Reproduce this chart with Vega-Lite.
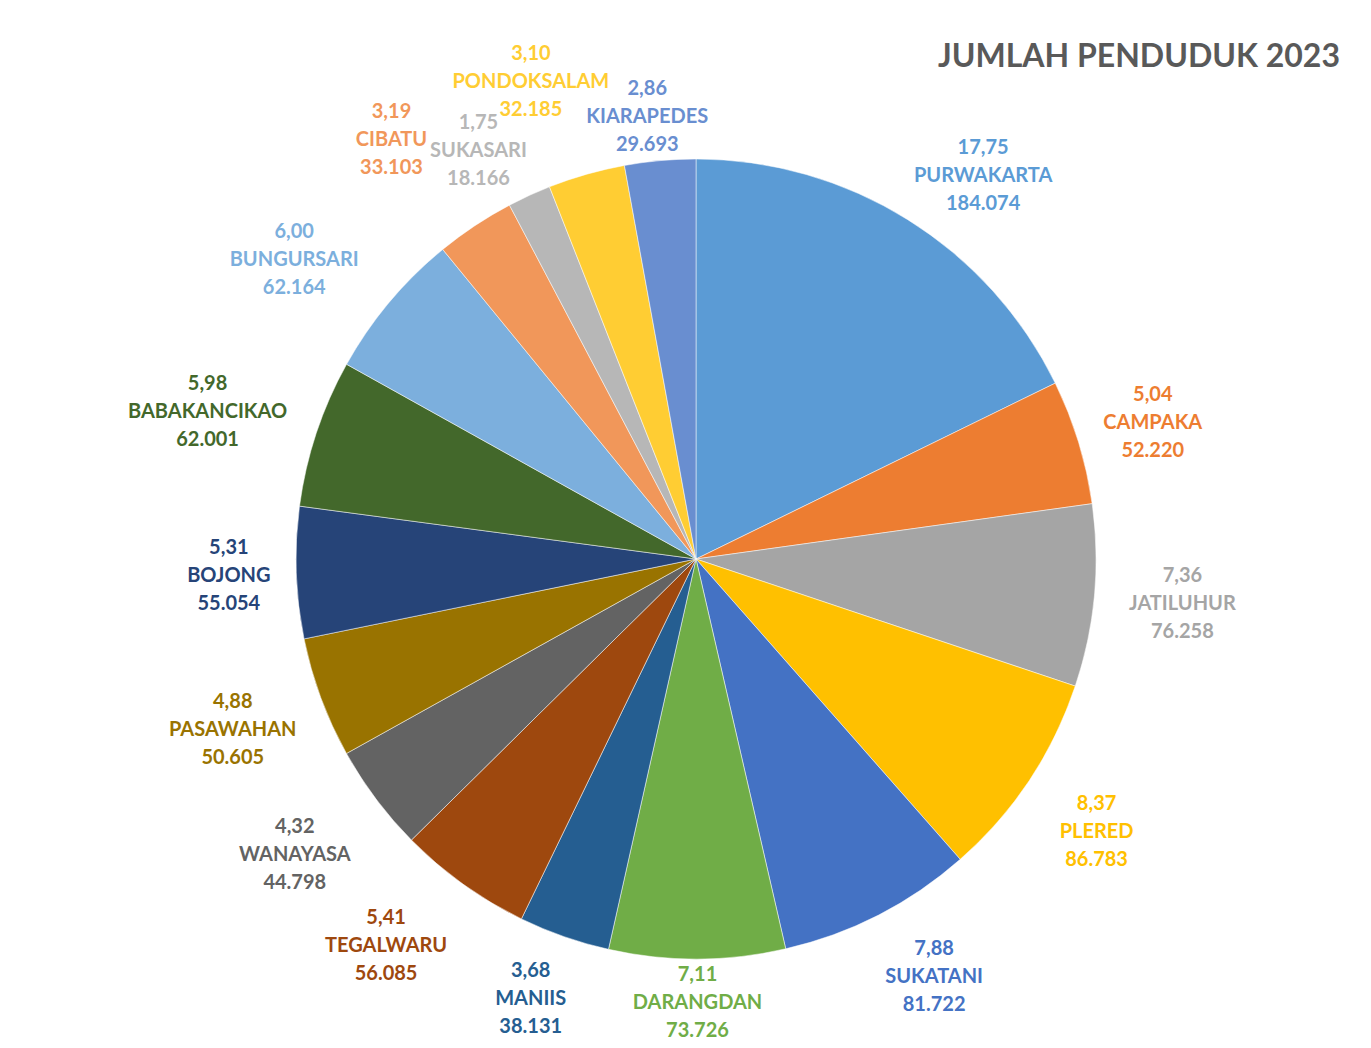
{
  "$schema": "https://vega.github.io/schema/vega-lite/v6.json",
  "autosize": "none",
  "width": 1350,
  "height": 978,
  "padding": {"left": 21, "top": 70, "right": 0, "bottom": 0},
  "background": "white",
  "title": {
    "text": "JUMLAH PENDUDUK 2023",
    "anchor": "end",
    "frame": "group",
    "orient": "top",
    "dx": -31,
    "offset": -30,
    "font": "Lato",
    "fontSize": 32,
    "fontWeight": "bold",
    "color": "#595959"
  },
  "config": {
    "view": {"stroke": null},
    "locale": {
      "number": {"decimal": ",", "thousands": ".", "grouping": [3], "currency": ["Rp", ""]}
    }
  },
  "data": {
    "values": [
      {"urutan": 1, "kecamatan": "PURWAKARTA", "penduduk": 184074, "persen": 17.75},
      {"urutan": 2, "kecamatan": "CAMPAKA", "penduduk": 52220, "persen": 5.04},
      {"urutan": 3, "kecamatan": "JATILUHUR", "penduduk": 76258, "persen": 7.36},
      {"urutan": 4, "kecamatan": "PLERED", "penduduk": 86783, "persen": 8.37},
      {"urutan": 5, "kecamatan": "SUKATANI", "penduduk": 81722, "persen": 7.88},
      {"urutan": 6, "kecamatan": "DARANGDAN", "penduduk": 73726, "persen": 7.11},
      {"urutan": 7, "kecamatan": "MANIIS", "penduduk": 38131, "persen": 3.68},
      {"urutan": 8, "kecamatan": "TEGALWARU", "penduduk": 56085, "persen": 5.41},
      {"urutan": 9, "kecamatan": "WANAYASA", "penduduk": 44798, "persen": 4.32},
      {"urutan": 10, "kecamatan": "PASAWAHAN", "penduduk": 50605, "persen": 4.88},
      {"urutan": 11, "kecamatan": "BOJONG", "penduduk": 55054, "persen": 5.31},
      {"urutan": 12, "kecamatan": "BABAKANCIKAO", "penduduk": 62001, "persen": 5.98},
      {"urutan": 13, "kecamatan": "BUNGURSARI", "penduduk": 62164, "persen": 6.00},
      {"urutan": 14, "kecamatan": "CIBATU", "penduduk": 33103, "persen": 3.19},
      {"urutan": 15, "kecamatan": "SUKASARI", "penduduk": 18166, "persen": 1.75},
      {"urutan": 16, "kecamatan": "PONDOKSALAM", "penduduk": 32185, "persen": 3.10},
      {"urutan": 17, "kecamatan": "KIARAPEDES", "penduduk": 29693, "persen": 2.86}
    ]
  },
  "encoding": {
    "theta": {"field": "penduduk", "type": "quantitative", "stack": true},
    "order": {"field": "urutan", "type": "quantitative"},
    "color": {
      "field": "kecamatan",
      "type": "nominal",
      "legend": null,
      "scale": {
        "domain": ["PURWAKARTA", "CAMPAKA", "JATILUHUR", "PLERED", "SUKATANI", "DARANGDAN", "MANIIS", "TEGALWARU", "WANAYASA", "PASAWAHAN", "BOJONG", "BABAKANCIKAO", "BUNGURSARI", "CIBATU", "SUKASARI", "PONDOKSALAM", "KIARAPEDES"],
        "range": ["#5B9BD5", "#ED7D31", "#A5A5A5", "#FFC000", "#4472C4", "#70AD47", "#255E91", "#9E480E", "#636363", "#997300", "#264478", "#43682B", "#7CAFDD", "#F1975A", "#B7B7B7", "#FFCD33", "#698ED0"]
      }
    }
  },
  "layer": [
    {
      "mark": {"type": "arc", "outerRadius": 400, "stroke": "white", "strokeWidth": 0.5}
    },
    {
      "mark": {
        "type": "text", "radius": 400, "font": "Lato", "fontSize": 20, "fontWeight": "bold", "align": "center", "baseline": "middle",
        "dx": {"expr": "(26 + max(length(datum.kecamatan), 6) * 6.9) * clamp(1.5 * sin(scale('theta', 0.5 * datum.penduduk_start + 0.5 * datum.penduduk_end)), -1, 1) + ((datum.persen < 3.5 && datum.urutan % 2 == 0) ? 50 : 0) * sin(scale('theta', 0.5 * datum.penduduk_start + 0.5 * datum.penduduk_end))"},
        "dy": {"expr": "min((cos(scale('theta', 0.5 * datum.penduduk_start + 0.5 * datum.penduduk_end)) < 0 ? 62 : 44) * clamp(-1.5 * cos(scale('theta', 0.5 * datum.penduduk_start + 0.5 * datum.penduduk_end)), -1, 1), height / 2 - 45 + 400 * cos(scale('theta', 0.5 * datum.penduduk_start + 0.5 * datum.penduduk_end))) - ((datum.persen < 3.5 && datum.urutan % 2 == 0) ? 50 : 0) * cos(scale('theta', 0.5 * datum.penduduk_start + 0.5 * datum.penduduk_end)) - 28"}
      },
      "encoding": {"text": {"field": "persen", "type": "quantitative", "format": ".2f"}}
    },
    {
      "mark": {
        "type": "text", "radius": 400, "font": "Lato", "fontSize": 20, "fontWeight": "bold", "align": "center", "baseline": "middle",
        "dx": {"expr": "(26 + max(length(datum.kecamatan), 6) * 6.9) * clamp(1.5 * sin(scale('theta', 0.5 * datum.penduduk_start + 0.5 * datum.penduduk_end)), -1, 1) + ((datum.persen < 3.5 && datum.urutan % 2 == 0) ? 50 : 0) * sin(scale('theta', 0.5 * datum.penduduk_start + 0.5 * datum.penduduk_end))"},
        "dy": {"expr": "min((cos(scale('theta', 0.5 * datum.penduduk_start + 0.5 * datum.penduduk_end)) < 0 ? 62 : 44) * clamp(-1.5 * cos(scale('theta', 0.5 * datum.penduduk_start + 0.5 * datum.penduduk_end)), -1, 1), height / 2 - 45 + 400 * cos(scale('theta', 0.5 * datum.penduduk_start + 0.5 * datum.penduduk_end))) - ((datum.persen < 3.5 && datum.urutan % 2 == 0) ? 50 : 0) * cos(scale('theta', 0.5 * datum.penduduk_start + 0.5 * datum.penduduk_end))"}
      },
      "encoding": {"text": {"field": "kecamatan", "type": "nominal"}}
    },
    {
      "mark": {
        "type": "text", "radius": 400, "font": "Lato", "fontSize": 20, "fontWeight": "bold", "align": "center", "baseline": "middle",
        "dx": {"expr": "(26 + max(length(datum.kecamatan), 6) * 6.9) * clamp(1.5 * sin(scale('theta', 0.5 * datum.penduduk_start + 0.5 * datum.penduduk_end)), -1, 1) + ((datum.persen < 3.5 && datum.urutan % 2 == 0) ? 50 : 0) * sin(scale('theta', 0.5 * datum.penduduk_start + 0.5 * datum.penduduk_end))"},
        "dy": {"expr": "min((cos(scale('theta', 0.5 * datum.penduduk_start + 0.5 * datum.penduduk_end)) < 0 ? 62 : 44) * clamp(-1.5 * cos(scale('theta', 0.5 * datum.penduduk_start + 0.5 * datum.penduduk_end)), -1, 1), height / 2 - 45 + 400 * cos(scale('theta', 0.5 * datum.penduduk_start + 0.5 * datum.penduduk_end))) - ((datum.persen < 3.5 && datum.urutan % 2 == 0) ? 50 : 0) * cos(scale('theta', 0.5 * datum.penduduk_start + 0.5 * datum.penduduk_end)) + 28"}
      },
      "encoding": {"text": {"field": "penduduk", "type": "quantitative", "format": ",d"}}
    }
  ]
}
